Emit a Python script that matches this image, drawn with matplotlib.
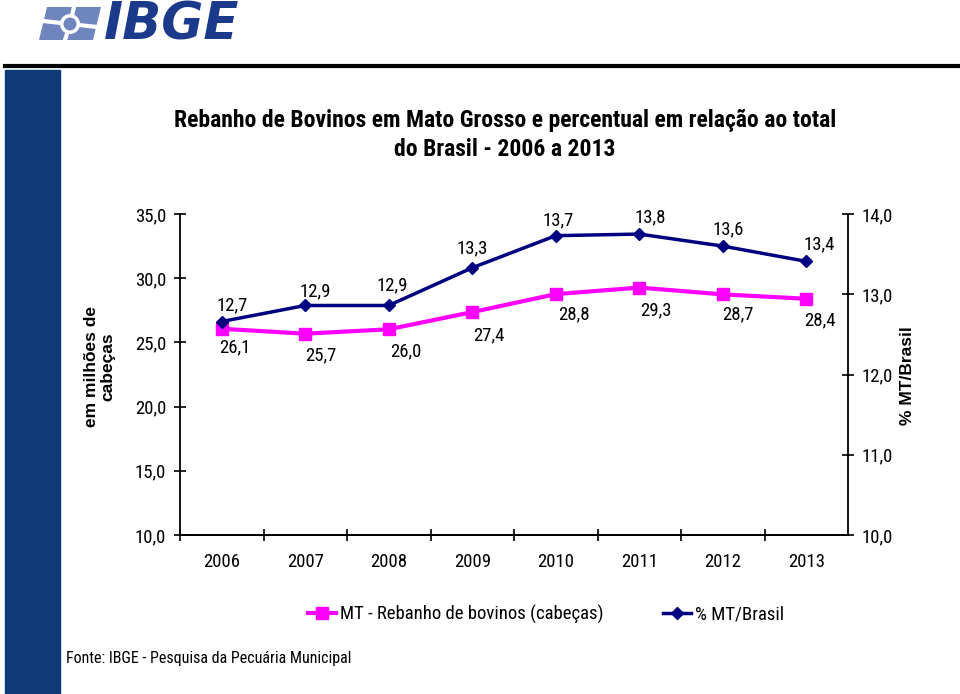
import matplotlib.pyplot as plt
import matplotlib
from matplotlib.patches import Rectangle, Polygon, Ellipse
from matplotlib.lines import Line2D
from matplotlib import font_manager

# chercher une police etroite (type Arial Narrow)
polices = font_manager.fontManager.ttflist
noms = {f.name for f in polices}
etroite = 'Liberation Sans'
for cand in ['Liberation Sans Narrow', 'Arial Narrow', 'Roboto Condensed', 'Open Sans Condensed']:
    if cand in noms:
        etroite = cand
        break
matplotlib.rcParams['font.family'] = [etroite, 'DejaVu Sans']

# Donnees
annees = ['2006', '2007', '2008', '2009', '2010', '2011', '2012', '2013']
rebanho_mt = [26.06, 25.68, 26.02, 27.36, 28.76, 29.27, 28.74, 28.40]   # milhoes de cabecas
pct_mt_brasil = [12.66, 12.86, 12.86, 13.33, 13.73, 13.75, 13.60, 13.41]
ticks_gauche = [10, 15, 20, 25, 30, 35]
ticks_droite = [10, 11, 12, 13, 14]

# decalage des etiquettes (pixels)
dec_rose = [(13, 19), (16, 22), (17, 22), (17, 23), (18, 20), (17, 23), (15, 20), (14, 22)]
dec_marine = [(11, -16), (10, -14), (4, -20), (0, -19), (3, -15), (11, -17), (5, -17), (13, -17)]

rose = '#FF00FF'
marine = '#000080'
bleu_ibge = '#1B3A8C'
bleu_logo = '#6F85BE'

L, H = 960, 694


def px(xp, yp):
    # pixels (depuis le coin haut gauche) -> fraction de figure
    return (xp / L, 1 - yp / H)


def virgule(v):
    return ('%.1f' % v).replace('.', ',')


fig = plt.figure(figsize=(9.6, 6.94), dpi=100)

# decor de la diapo
fig.add_artist(Rectangle(px(5, H), 55 / L, 1 - 70 / H, transform=fig.transFigure,
                         color='#0F3A78', zorder=0))
fig.add_artist(Line2D([5 / L, 1], [1 - 66 / H, 1 - 66 / H], transform=fig.transFigure,
                      color='black', lw=3))

# logo IBGE (approximation)
fig.add_artist(Polygon([px(47, 7), px(101, 7), px(93, 40), px(39, 40)], closed=True,
                       transform=fig.transFigure, color=bleu_logo, lw=0, zorder=1))
fig.add_artist(Line2D([74 / L, 70 / L, 65 / L], [1 - 7 / H, 1 - 24 / H, 1 - 40 / H],
                      transform=fig.transFigure, color='white', lw=3, zorder=1.1))
fig.add_artist(Line2D([43 / L, 70 / L, 97 / L], [1 - 21 / H, 1 - 24 / H, 1 - 27 / H],
                      transform=fig.transFigure, color='white', lw=3, zorder=1.1))
fig.add_artist(Ellipse(px(70, 24), 20 / L, 20 / H, transform=fig.transFigure,
                       color='white', lw=0, zorder=1.2))
fig.add_artist(Ellipse(px(70, 24), 13 / L, 13 / H, transform=fig.transFigure,
                       color=bleu_logo, lw=0, zorder=1.3))
fig.text(104 / L, 1 - 26 / H, 'IBGE', fontsize=37, fontweight='bold', style='italic',
         color=bleu_ibge, va='center', ha='left', family='DejaVu Sans')

# titre
fig.text(505 / L, 1 - 135 / H,
         'Rebanho de Bovinos em Mato Grosso e percentual em relação ao total\ndo Brasil - 2006 a 2013',
         ha='center', va='center', fontsize=17, fontweight='bold', linespacing=1.35)

ax = fig.add_axes([180 / L, 1 - 535 / H, 668 / L, 321 / H])
ax2 = ax.twinx()

x = list(range(len(annees)))
ax.plot(x, rebanho_mt, color=rose, lw=3, marker='s', ms=8, zorder=3)
ax2.plot(x, pct_mt_brasil, color=marine, lw=2.5, marker='D', ms=6, zorder=3)

for xi, v, (dx, dy) in zip(x, rebanho_mt, dec_rose):
    ax.annotate(virgule(v), (xi, v), xytext=(dx * 0.72, -dy * 0.72), textcoords='offset points',
                ha='center', va='center', fontsize=13.5)
for xi, v, (dx, dy) in zip(x, pct_mt_brasil, dec_marine):
    ax2.annotate(virgule(v), (xi, v), xytext=(dx * 0.72, -dy * 0.72), textcoords='offset points',
                 ha='center', va='center', fontsize=13.5)

ax.set_xlim(-0.5, len(annees) - 0.5)
ax.set_ylim(10, 35)
ax2.set_ylim(10, 14)
ax.set_yticks(ticks_gauche)
ax.set_yticklabels([virgule(t) for t in ticks_gauche], fontsize=13.5)
ax2.set_yticks(ticks_droite)
ax2.set_yticklabels([virgule(t) for t in ticks_droite], fontsize=13.5)

ax.set_xticks(x)
ax.set_xticklabels(annees, fontsize=13.5)
ax.set_xticks([i + 0.5 for i in x[:-1]] + [-0.5], minor=True)
ax.tick_params(axis='x', which='major', length=0, pad=13)
ax.tick_params(axis='x', which='minor', direction='inout', length=8, width=1.2)
ax.tick_params(axis='y', direction='inout', length=8, width=1.2, pad=6)
ax2.tick_params(axis='y', direction='inout', length=8, width=1.2, pad=6)

for a in (ax, ax2):
    a.spines['top'].set_visible(False)
    for s in ('left', 'right', 'bottom'):
        a.spines[s].set_linewidth(1.3)
ax.spines['right'].set_visible(False)
ax2.spines['left'].set_visible(False)

fig.text(100 / L, 1 - 367 / H, 'em milhões de\ncabeças', rotation=90, ha='center',
         va='center', fontsize=12.5, fontweight='bold', family='Liberation Sans',
         linespacing=1.1)
fig.text(908 / L, 1 - 376 / H, '% MT/Brasil', rotation=90, ha='center', va='center',
         fontsize=12.5, fontweight='bold', family='Liberation Sans')

# legende
poignees = [Line2D([], [], color=rose, lw=3, marker='s', ms=8),
            Line2D([], [], color=marine, lw=2.5, marker='D', ms=6)]
fig.legend(poignees, ['MT - Rebanho de bovinos (cabeças)', '% MT/Brasil'],
           loc='center', bbox_to_anchor=(546 / L, 1 - 614 / H), ncol=2, frameon=False,
           fontsize=13.5, handlelength=1.5, handletextpad=0.2, columnspacing=3.2)

fig.text(66 / L, 1 - 659 / H, 'Fonte: IBGE - Pesquisa da Pecuária Municipal',
         ha='left', va='center', fontsize=11.5)

fig.savefig('out.png', dpi=100)
